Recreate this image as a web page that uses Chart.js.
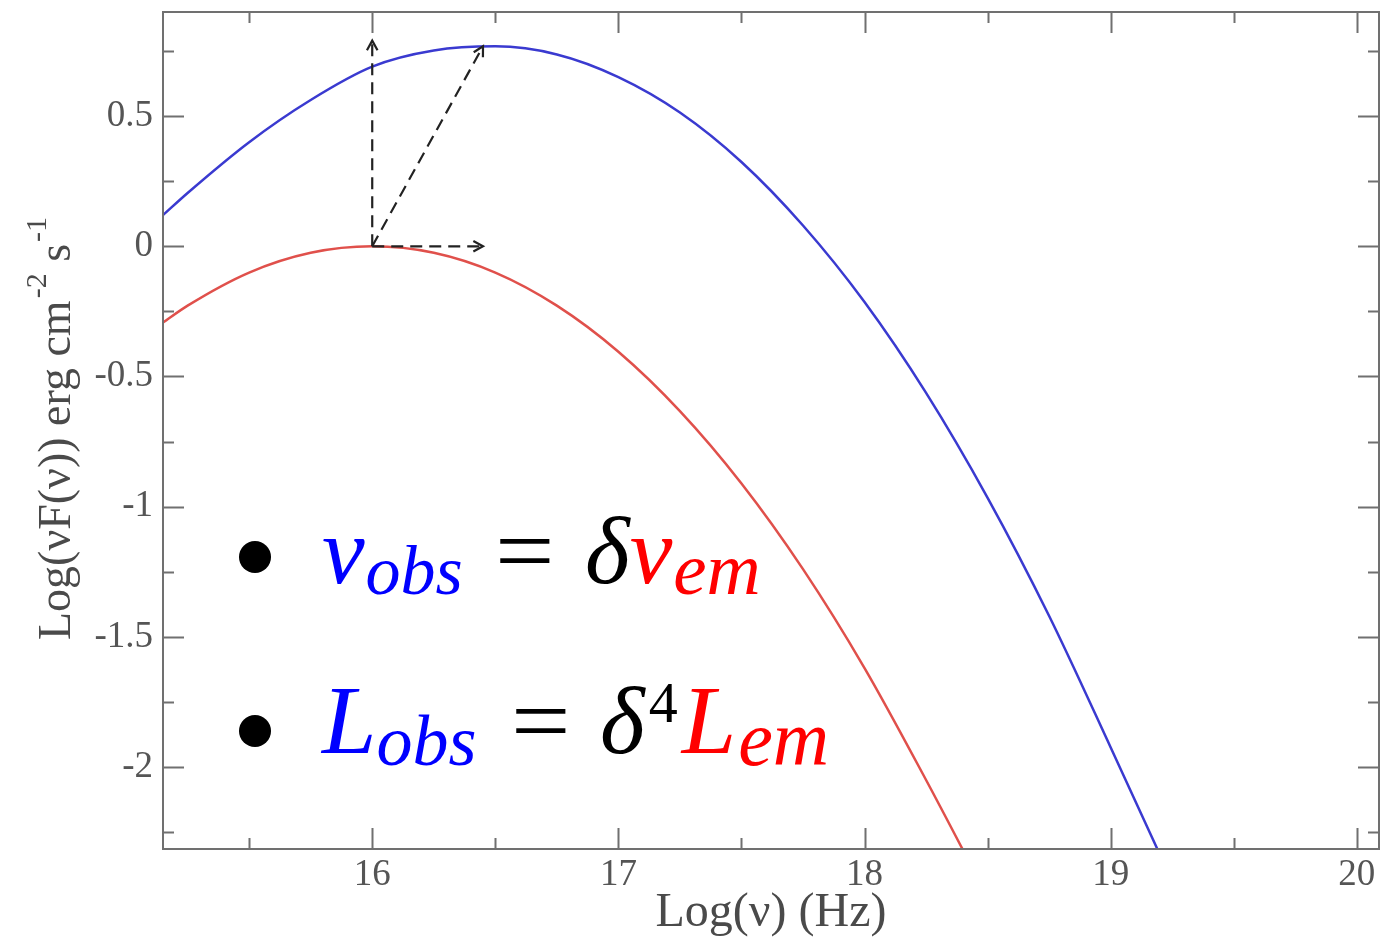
<!DOCTYPE html>
<html>
<head>
<meta charset="utf-8">
<script src="https://cdn.jsdelivr.net/npm/chart.js@4.4.1/dist/chart.umd.min.js"></script>
<style>
  html, body { margin: 0; padding: 0; background: #fff; }
  #sed { display: block; }
</style>
</head>
<body>
<canvas id="sed" width="1395" height="938"></canvas>
<script>
// log10(nu) grid and log10(nu F(nu)) for the observed (blue) and emitted (red) spectra
const obsLogNu = [15.15, 15.25, 15.5, 15.75, 16.0, 16.25, 16.5, 16.75, 17.0, 17.25, 17.5, 17.75, 18.0, 18.25, 18.5, 18.75, 19.0, 19.25];
const obsLogFlux = [0.12, 0.205, 0.40, 0.562, 0.69, 0.752, 0.768, 0.737, 0.65, 0.514, 0.324, 0.08, -0.214, -0.563, -0.966, -1.42, -1.925, -2.44];

const emLogNu = [15.15, 15.25, 15.5, 15.75, 16.0, 16.25, 16.5, 16.75, 17.0, 17.25, 17.5, 17.75, 18.0, 18.25, 18.5];
const emLogFlux = [-0.293, -0.228, -0.101, -0.025, 0, -0.025, -0.101, -0.228, -0.405, -0.633, -0.911, -1.24, -1.62, -2.05, -2.50];

// boost arrows: common origin at the emitted peak, tips in data units
const arrowFrom = [16, 0];
const arrowTips = [[16, 0.79], [16.45, 0.768], [16.45, 0]];

const xMajor = [16, 17, 18, 19, 20];
const xMinor = [15.5, 16.5, 17.5, 18.5, 19.5];
const yMajor = [-2, -1.5, -1, -0.5, 0, 0.5];
const yMinor = [-2.25, -1.75, -1.25, -0.75, -0.25, 0.25, 0.75];

const SERIF = '"Liberation Serif", "DejaVu Serif", serif';
const axisGray = '#707070';
const labelGray = '#4a4a4a';

const toPoints = (xs, ys) => xs.map((x, i) => ({ x, y: ys[i] }));

// frame with inward ticks on all four sides
const frameTicks = {
  id: 'frameTicks',
  afterDatasetsDraw(chart) {
    const { ctx, chartArea: a, scales: { x, y } } = chart;
    ctx.save();
    ctx.strokeStyle = axisGray;
    ctx.lineWidth = 2;
    ctx.strokeRect(a.left, a.top, a.right - a.left, a.bottom - a.top);
    ctx.beginPath();
    const xt = (vals, len) => vals.forEach(v => {
      const px = Math.round(x.getPixelForValue(v)) + 0.5;
      ctx.moveTo(px, a.bottom); ctx.lineTo(px, a.bottom - len);
      ctx.moveTo(px, a.top); ctx.lineTo(px, a.top + len);
    });
    const yt = (vals, len) => vals.forEach(v => {
      const py = Math.round(y.getPixelForValue(v)) + 0.5;
      ctx.moveTo(a.left, py); ctx.lineTo(a.left + len, py);
      ctx.moveTo(a.right, py); ctx.lineTo(a.right - len, py);
    });
    xt(xMajor, 21); xt(xMinor, 11);
    yt(yMajor, 21); yt(yMinor, 11);
    ctx.stroke();
    ctx.restore();
  }
};

// dashed arrows from the emitted peak
const boostArrows = {
  id: 'boostArrows',
  afterDatasetsDraw(chart) {
    const { ctx, scales: { x, y } } = chart;
    const x0 = x.getPixelForValue(arrowFrom[0]);
    const y0 = y.getPixelForValue(arrowFrom[1]);
    ctx.save();
    ctx.strokeStyle = '#222';
    ctx.lineWidth = 2.2;
    arrowTips.forEach(([tx, ty]) => {
      const x1 = x.getPixelForValue(tx);
      const y1 = y.getPixelForValue(ty);
      const ang = Math.atan2(y1 - y0, x1 - x0);
      ctx.setLineDash([12, 7]);
      ctx.beginPath();
      ctx.moveTo(x0, y0);
      ctx.lineTo(x1, y1);
      ctx.stroke();
      ctx.setLineDash([]);
      ctx.beginPath();
      const h = 11, spread = 0.5;
      ctx.moveTo(x1 - h * Math.cos(ang - spread), y1 - h * Math.sin(ang - spread));
      ctx.lineTo(x1, y1);
      ctx.lineTo(x1 - h * Math.cos(ang + spread), y1 - h * Math.sin(ang + spread));
      ctx.stroke();
    });
    ctx.restore();
  }
};

// writes a run of text pieces left to right, returns the end x
function run(ctx, x, pieces) {
  pieces.forEach(p => {
    ctx.font = p.font;
    ctx.fillStyle = p.color;
    ctx.fillText(p.t, x + (p.dx || 0), p.base);
    x += (p.dx || 0) + ctx.measureText(p.t).width;
  });
  return x;
}

// axis titles and the two relations
const textLayer = {
  id: 'textLayer',
  afterDraw(chart) {
    const { ctx } = chart;
    ctx.save();
    ctx.textBaseline = 'alphabetic';
    ctx.textAlign = 'left';

    // x title
    ctx.font = `48px ${SERIF}`;
    ctx.fillStyle = labelGray;
    const xt = 'Log(\u03bd) (Hz)';
    const w = ctx.measureText(xt).width;
    ctx.fillText(xt, 771 - w / 2, 926);

    // y title, rotated
    ctx.save();
    ctx.translate(70, 640);
    ctx.rotate(-Math.PI / 2);
    const big = `46px ${SERIF}`, small = `30px ${SERIF}`;
    run(ctx, 0, [
      { t: 'Log(\u03bdF(\u03bd)) erg cm', font: big, color: labelGray, base: 0 },
      { t: '-2', font: small, color: labelGray, base: -24, dx: 2 },
      { t: ' s', font: big, color: labelGray, base: 0 },
      { t: '-1', font: small, color: labelGray, base: -24, dx: 2 }
    ]);
    ctx.restore();

    const it = s => `italic ${s}px ${SERIF}`;
    const up = s => `${s}px ${SERIF}`;
    const blue = '#0000ff', red = '#ff0000', black = '#000';

    // bullets
    ctx.fillStyle = black;
    [557, 731].forEach(cy => {
      ctx.beginPath();
      ctx.arc(255, cy, 16, 0, Math.PI * 2);
      ctx.fill();
    });

    // nu_obs = delta nu_em
    const b1 = 583, s1 = 594;
    run(ctx, 322, [
      { t: '\u03bd', font: it(96), color: blue, base: b1 },
      { t: 'obs', font: it(70), color: blue, base: s1, dx: 1 }
    ]);
    ctx.save();
    ctx.translate(495, 0);
    ctx.scale(1.1, 1);
    run(ctx, 0, [{ t: '=', font: up(96), color: black, base: b1 }]);
    ctx.restore();
    run(ctx, 585, [
      { t: '\u03b4', font: it(96), color: black, base: b1 },
      { t: '\u03bd', font: it(96), color: red, base: b1, dx: 0 },
      { t: 'em', font: it(75), color: red, base: s1, dx: 1 }
    ]);

    // L_obs = delta^4 L_em
    const b2 = 753, s2 = 765;
    run(ctx, 322, [
      { t: 'L', font: it(98), color: blue, base: b2 },
      { t: 'obs', font: it(72), color: blue, base: s2, dx: 0 }
    ]);
    ctx.save();
    ctx.translate(511, 0);
    ctx.scale(1.1, 1);
    run(ctx, 0, [{ t: '=', font: up(96), color: black, base: b2 }]);
    ctx.restore();
    run(ctx, 600, [
      { t: '\u03b4', font: it(96), color: black, base: b2 },
      { t: '4', font: up(58), color: black, base: 722, dx: 4 },
      { t: 'L', font: it(98), color: red, base: b2, dx: 4 },
      { t: 'em', font: it(78), color: red, base: s2, dx: 2 }
    ]);
    ctx.restore();
  }
};

const tickFont = { family: SERIF, size: 37 };

new Chart(document.getElementById('sed'), {
  type: 'line',
  data: {
    datasets: [
      {
        data: toPoints(obsLogNu, obsLogFlux),
        borderColor: '#3a3ad0',
        borderWidth: 2.5,
        pointRadius: 0,
        fill: false,
        cubicInterpolationMode: 'monotone'
      },
      {
        data: toPoints(emLogNu, emLogFlux),
        borderColor: '#e0504b',
        borderWidth: 2.5,
        pointRadius: 0,
        fill: false,
        cubicInterpolationMode: 'monotone'
      }
    ]
  },
  options: {
    responsive: false,
    animation: false,
    events: [],
    layout: { padding: { top: 12, right: 16, left: 0, bottom: 0 } },
    plugins: { legend: { display: false }, tooltip: { enabled: false } },
    scales: {
      x: {
        type: 'linear',
        min: 15.15,
        max: 20.09,
        grid: { display: false },
        border: { display: false },
        afterBuildTicks: s => { s.ticks = xMajor.map(v => ({ value: v })); },
        afterFit: s => { s.height = 89; s.paddingLeft = 0; s.paddingRight = 0; },
        ticks: { font: tickFont, color: '#555', padding: -4, maxRotation: 0, autoSkip: false, callback: v => String(v) }
      },
      y: {
        type: 'linear',
        min: -2.315,
        max: 0.9,
        grid: { display: false },
        border: { display: false },
        afterBuildTicks: s => { s.ticks = yMajor.map(v => ({ value: v })); },
        afterFit: s => { s.width = 163; s.paddingTop = 0; s.paddingBottom = 0; },
        ticks: { font: tickFont, color: '#555', padding: 2, autoSkip: false, callback: v => String(v) }
      }
    }
  },
  plugins: [frameTicks, boostArrows, textLayer]
});
</script>
</body>
</html>
